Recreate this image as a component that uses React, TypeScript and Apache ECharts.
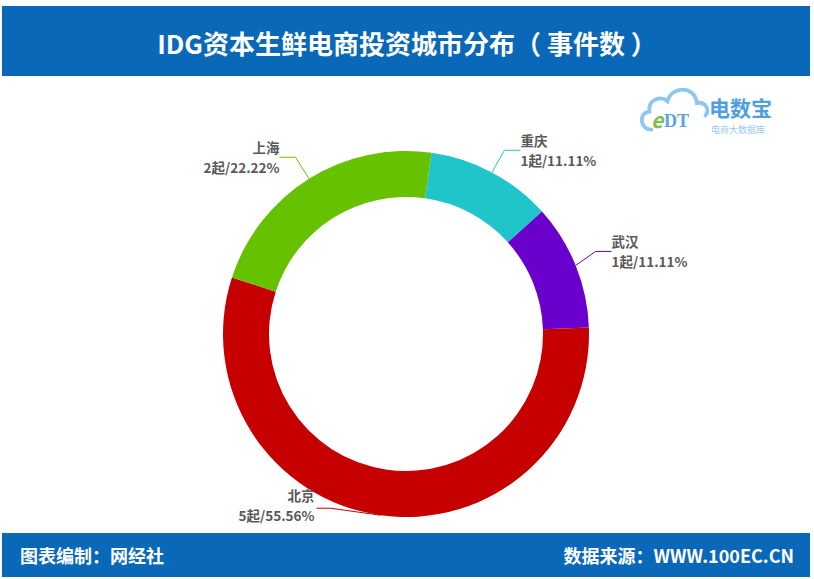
import React, { useEffect, useRef } from "react";
import * as echarts from "echarts";

const cities = ["重庆", "武汉", "北京", "上海"];
const counts = [1, 1, 5, 2];
const colors = ["#1fc5c8", "#6a00cc", "#c60000", "#66c200"];
const titleText = "IDG资本生鲜电商投资城市分布（ 事件数 ）";
const footerLeft = "图表编制：网经社";
const footerRight = "数据来源：WWW.100EC.CN";

const cloudPath =
  "M14,46 C2,46 0,28 12,27 C10,14 24,10 31,16 C35,0 60,-1 62,18 C71,16 76,25 71,31";

export default function App() {
  const ref = useRef<HTMLDivElement>(null);
  useEffect(() => {
    if (!ref.current) return;
    echarts.graphic.registerShape("cloud", echarts.graphic.extendPath(cloudPath, {}) as any);
    const chart = echarts.init(ref.current, null, { renderer: "svg" });
    const font = '"Noto Sans CJK SC", "Noto Sans", sans-serif';
    chart.setOption({
      animation: false,
      backgroundColor: "#ffffff",
      graphic: [
        { type: "rect", shape: { x: 2, y: 6, width: 808, height: 70 }, style: { fill: "#0a68b8" }, z: 0 },
        {
          type: "text", x: 407, y: 42,
          style: { text: titleText, fill: "#ffffff", font: `bold 26px ${font}`, align: "center", verticalAlign: "middle" },
        },
        { type: "rect", shape: { x: 2, y: 533, width: 808, height: 44 }, style: { fill: "#0a68b8" }, z: 0 },
        {
          type: "text", x: 20, y: 555,
          style: { text: footerLeft, fill: "#ffffff", font: `bold 18px ${font}`, align: "left", verticalAlign: "middle" },
        },
        {
          type: "text", x: 794, y: 555,
          style: { text: footerRight, fill: "#ffffff", font: `bold 18px ${font}`, align: "right", verticalAlign: "middle" },
        },
        {
          type: "cloud", x: 638, y: 86, scaleX: 0.95, scaleY: 0.95,
          style: { fill: "none", stroke: "#8fc6f0", lineWidth: 4, lineCap: "round" },
        },
        {
          type: "text", x: 651, y: 119,
          style: { text: "e", fill: "#7cc24a", font: `italic bold 21px ${font}`, verticalAlign: "middle" },
        },
        {
          type: "text", x: 664, y: 121,
          style: { text: "DT", fill: "#5aa4e0", font: `bold 18px "Liberation Serif", serif`, verticalAlign: "middle" },
        },
        {
          type: "text", x: 709, y: 107,
          style: { text: "电数宝", fill: "#4f9ee0", font: `bold 21px ${font}`, verticalAlign: "middle" },
        },
        {
          type: "text", x: 711, y: 129,
          style: { text: "电商大数据库", fill: "#9cc8ee", font: `9px ${font}`, verticalAlign: "middle" },
        },
      ],
      series: [
        {
          type: "pie",
          center: [406, 334],
          radius: [137, 183],
          startAngle: 82,
          clockwise: true,
          avoidLabelOverlap: false,
          percentPrecision: 2,
          data: cities.map((c, i) => ({ name: c, value: counts[i], itemStyle: { color: colors[i] } })),
          label: {
            show: true,
            position: "outside",
            formatter: (p: any) => `${p.name}\n${p.value}起/${p.percent.toFixed(2)}%`,
            color: "#595959",
            fontSize: 13.5,
            fontWeight: "bold",
            fontFamily: font,
            lineHeight: 20,
          },
          labelLine: { show: true, length: 16, length2: 16, lineStyle: { width: 1 } },
          labelLayout: (params: any) => {
            const pts = params.labelLinePoints;
            if (params.dataIndex === 2 && pts) {
              const p0 = pts[0];
              const p1 = [p0[0] - 50, p0[1] - 7];
              const p2 = [p1[0] - 14, p1[1]];
              return {
                x: p2[0] - 2,
                y: p2[1] - 3,
                align: "right",
                verticalAlign: "middle",
                labelLinePoints: [p0, p1, p2],
              };
            }
            const r = params.labelRect;
            return { y: r.y + r.height / 2 - 8, verticalAlign: "middle" };
          },
          emphasis: { disabled: true },
        },
      ],
    });
    return () => chart.dispose();
  }, []);
  return <div ref={ref} style={{ position: "fixed", left: 0, top: 0, width: 814, height: 579 }} />;
}
